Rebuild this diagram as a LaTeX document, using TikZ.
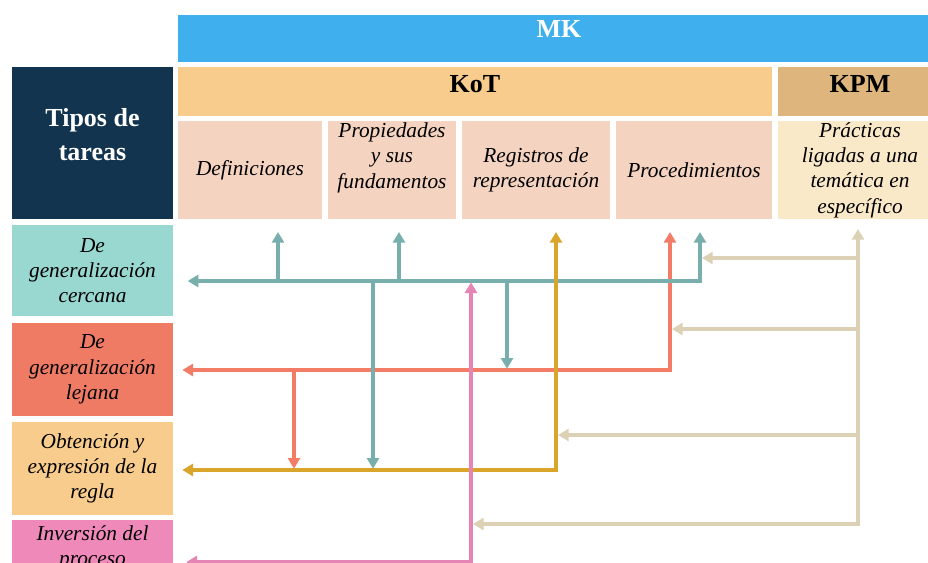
\documentclass[tikz,border=0pt]{standalone}
\usepackage{fontspec}
\setmainfont{Liberation Serif}
\usepackage{xcolor}
\usetikzlibrary{arrows.meta}

\definecolor{mkblue}{HTML}{3FAFEE}
\definecolor{kotband}{HTML}{F8CC8D}
\definecolor{kpmband}{HTML}{DEB67D}
\definecolor{subcell}{HTML}{F4D3C0}
\definecolor{praccell}{HTML}{FAE9C9}
\definecolor{navy}{HTML}{12344F}
\definecolor{rowteal}{HTML}{98D8D0}
\definecolor{rowred}{HTML}{F07B65}
\definecolor{rowgold}{HTML}{F8CC8D}
\definecolor{rowpink}{HTML}{EF89B9}
\definecolor{lnteal}{HTML}{78AFAC}
\definecolor{lnred}{HTML}{F27C66}
\definecolor{lngold}{HTML}{D9A62B}
\definecolor{lnpink}{HTML}{E585B6}
\definecolor{lnbeige}{HTML}{DCD0B5}

\tikzset{
  cell/.style={rectangle, inner sep=0pt, outer sep=0pt, align=center,
    font=\fontsize{16}{19}\selectfont\itshape},
  head/.style={cell, font=\fontsize{19.5}{25}\selectfont\bfseries},
  wire/.style={line width=2.4pt, -{Triangle[width=9pt,length=8pt]}},
  twowire/.style={line width=2.4pt, {Triangle[width=9pt,length=8pt]}-{Triangle[width=9pt,length=8pt]}},
}

\begin{document}
\begin{tikzpicture}[x=0.75pt,y=0.75pt,yscale=-1,xscale=1]
\useasboundingbox (0,0) rectangle (928,562);
\clip (0,0) rectangle (928,562);

%Shape: Rectangle (header bands)
\node[head, fill=mkblue, text=white, minimum width=571.5pt, text height=17pt, text depth=18pt] (mk) at (559,38.5) {MK};
\node[head, fill=kotband, minimum width=445.5pt, text height=18.75pt, text depth=18pt] (kot) at (475,91.5) {KoT};
\node[head, fill=kpmband, minimum width=123pt, text height=18.75pt, text depth=18pt] (kpm) at (860,91.5) {KPM};
\node[head, fill=navy, text=white, minimum width=120.75pt, text height=69.75pt, text depth=44.25pt] (tipos) at (92.5,143) {Tipos de\\ tareas};

%Shape: Rectangle (subdomains)
\node[cell, fill=subcell, minimum width=108pt, minimum height=73.5pt] (def) at (250,170) {Definiciones};
\node[cell, fill=subcell, minimum width=96pt, text height=50.25pt, text depth=23.25pt] (prop) at (392,170) {Propiedades\\ y sus\\ fundamentos};
\node[cell, fill=subcell, minimum width=111pt, minimum height=73.5pt] (reg) at (536,170) {Registros de\\ representación};
\node[cell, fill=subcell, minimum width=117pt, minimum height=73.5pt] (proc) at (694,170) {Procedimientos};
\node[cell, fill=praccell, minimum width=123pt, minimum height=73.5pt] (prac) at (860,170) {Prácticas\\ ligadas a una\\ temática en\\ específico};

%Shape: Rectangle (task types)
\node[cell, fill=rowteal, minimum width=120.75pt, minimum height=68.25pt] (cercana) at (92.5,270.5) {De\\ generalización\\ cercana};
\node[cell, fill=rowred, minimum width=120.75pt, minimum height=69.75pt] (lejana) at (92.5,369.5) {De\\ generalización\\ lejana};
\node[cell, fill=rowgold, minimum width=120.75pt, minimum height=69.75pt] (regla) at (92.5,468.5) {Obtención y\\ expresión de la\\ regla};
\node[cell, fill=rowpink, minimum width=120.75pt, minimum height=42pt] (inversion) at (92.5,548) {Inversión del\\ proceso};

% corners and branch points
\coordinate (tA) at (700,281);
\coordinate (tB) at (278,281);
\coordinate (tC) at (399,281);
\coordinate (tD) at (373,281);
\coordinate (tE) at (507,281);
\coordinate (rA) at (670,370);
\coordinate (rB) at (294,370);
\coordinate (gA) at (556,470);
\coordinate (pA) at (471,562);
\coordinate (kA) at (858,524);
\coordinate (kB) at (858,258);
\coordinate (kC) at (858,329);
\coordinate (kD) at (858,435);

%Straight Lines (red)
\draw[twowire, lnred, shorten <=7pt, shorten >=9.75pt] (rA -| lejana.east) -- (rA) -- (rA |- proc.south);
\draw[wire, lnred, shorten >=1pt] (rB) -- (rB |- gA);

%Straight Lines (teal)
\draw[twowire, lnteal, shorten <=11pt, shorten >=9.75pt] (tA -| cercana.east) -- (tA) -- (tA |- proc.south);
\draw[wire, lnteal, shorten >=9.75pt] (tB) -- (tB |- def.south);
\draw[wire, lnteal, shorten >=9.75pt] (tC) -- (tC |- prop.south);
\draw[wire, lnteal, shorten >=1pt] (tD) -- (tD |- gA);
\draw[wire, lnteal, shorten >=1pt] (tE) -- (tE |- rA);

%Straight Lines (gold)
\draw[twowire, lngold, shorten <=7pt, shorten >=9.75pt] (gA -| regla.east) -- (gA) -- (gA |- reg.south);

%Straight Lines (pink)
\draw[twowire, lnpink, shorten <=10pt, shorten >=1pt] (pA -| inversion.east) -- (pA) -- (pA |- tA);

%Straight Lines (beige)
\draw[twowire, lnbeige, shorten <=1.5pt, shorten >=7.5pt] (kA -| pA) -- (kA) -- (kA |- prac.south);
\draw[wire, lnbeige, shorten >=1.5pt] (kB) -- (kB -| tA);
\draw[wire, lnbeige, shorten >=1.5pt] (kC) -- (kC -| rA);
\draw[wire, lnbeige, shorten >=1.5pt] (kD) -- (kD -| gA);

\end{tikzpicture}
\end{document}
